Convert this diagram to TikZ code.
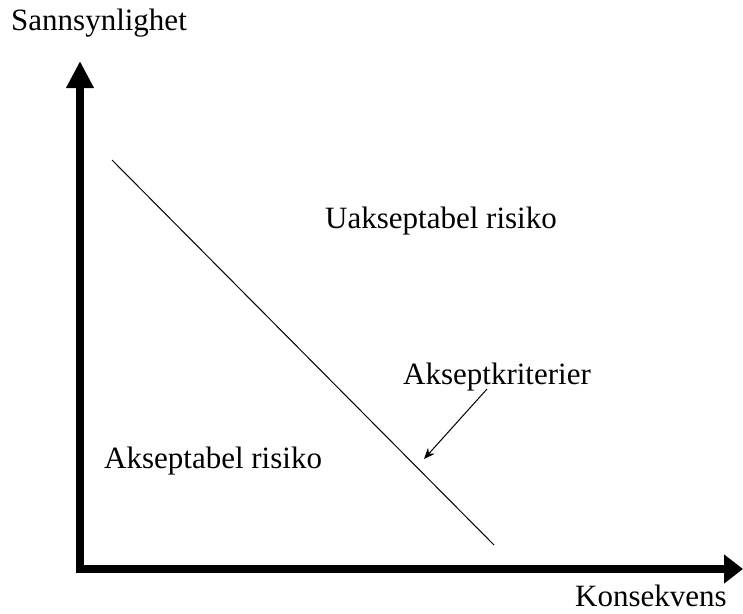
\documentclass[tikz,border=0pt]{standalone}
\usepackage{fontspec}
\setmainfont{Liberation Serif}
\usetikzlibrary{arrows.meta}
\begin{document}
\begin{tikzpicture}[x=1pt,y=-1pt,
  lbl/.style={anchor=base west,inner sep=0pt,font=\fontsize{31}{36}\selectfont},
  axis/.style={line width=7.5pt},
  thin/.style={line width=1pt}]
\useasboundingbox (0,0) rectangle (743,613);
\coordinate (origin) at (80,569);
\coordinate (ytip) at (80,61);
\coordinate (xtip) at (743,569);
\draw[axis,{Triangle[length=27pt,width=26pt]}-{Triangle[length=19pt,width=28pt]}] (ytip) -- (origin) -- (xtip);
\node[lbl] (ylab) at (11,30) {Sannsynlighet};
\node[lbl] (xlab) at (575,606) {Konsekvens};
\node[lbl] (unacc) at (325,228) {Uakseptabel risiko};
\node[lbl] (acc) at (104,468) {Akseptabel risiko};
\node[lbl] (crit) at (403,384) {Akseptkriterier};
\coordinate (d1) at (112,160);
\coordinate (d2) at (494,545);
\draw[thin] (d1) -- (d2);
\coordinate (ptr) at (487,389);
\coordinate (ptrend) at (424,459);
\draw[thin,-{Stealth[length=11pt,width=9pt]}] (ptr) -- (ptrend);
\end{tikzpicture}
\end{document}
